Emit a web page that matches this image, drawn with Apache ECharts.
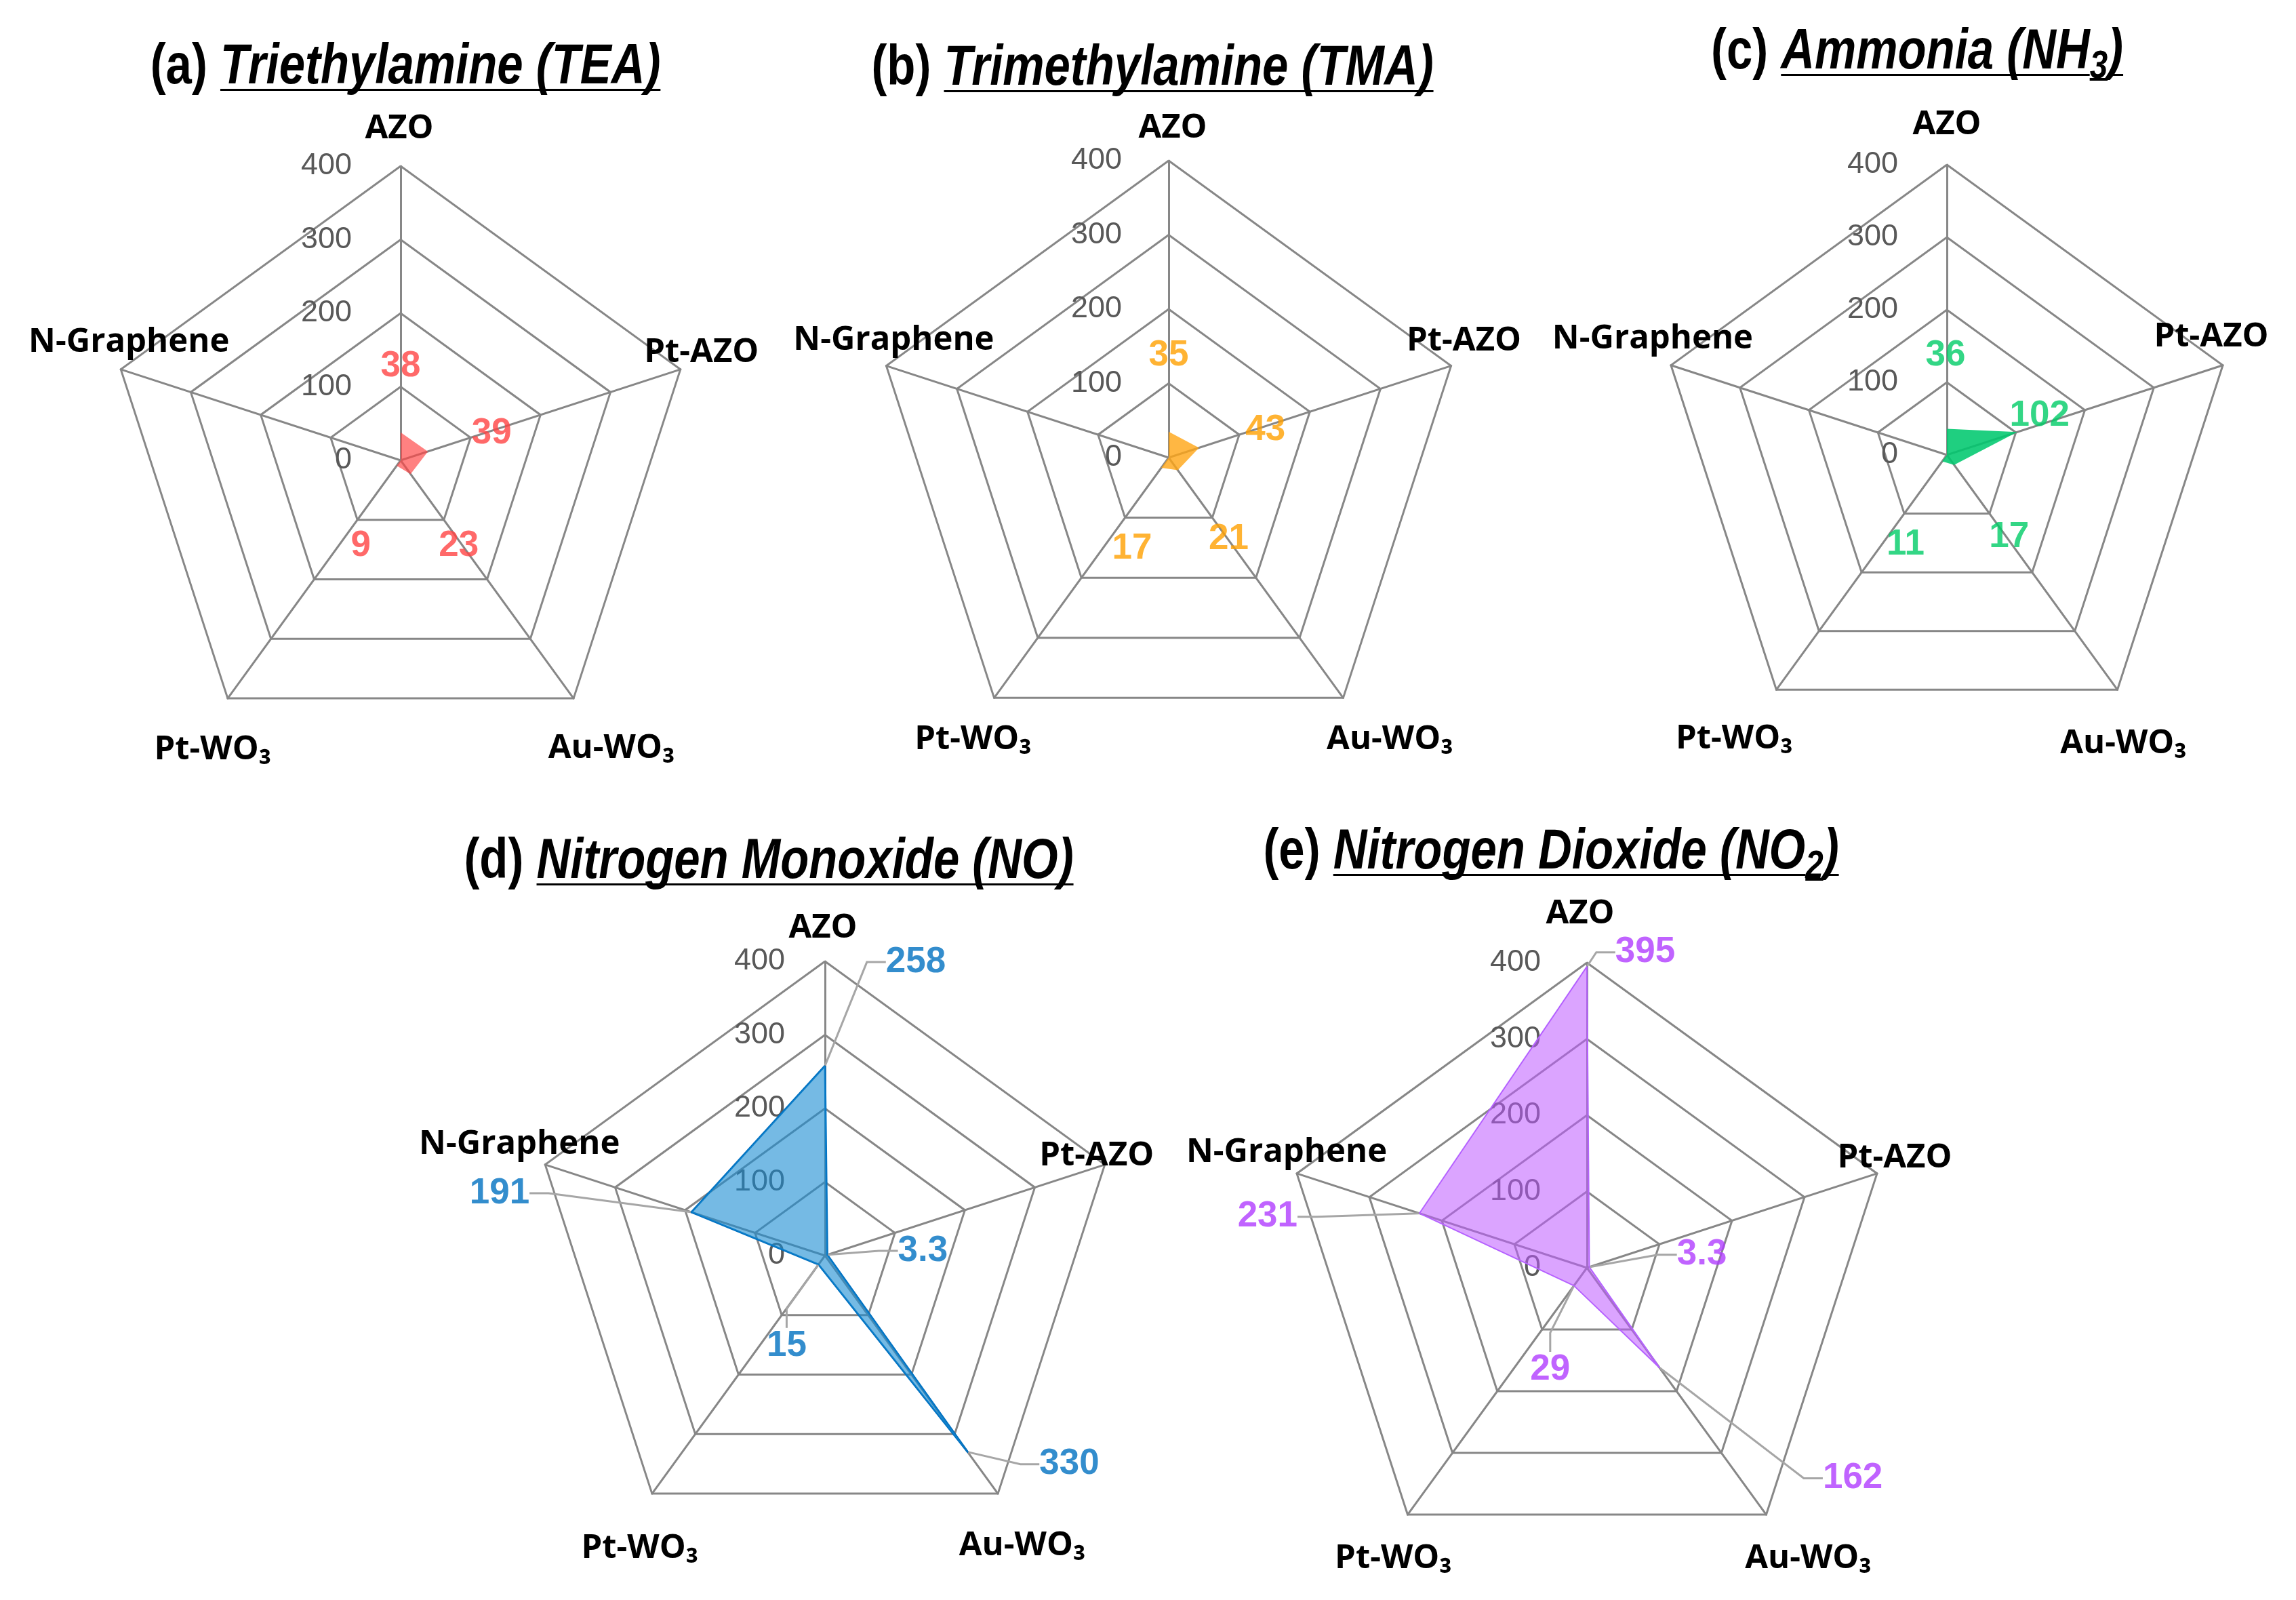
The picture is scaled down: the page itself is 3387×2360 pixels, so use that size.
<!DOCTYPE html>
<html><head><meta charset="utf-8">
<script src="https://cdn.jsdelivr.net/npm/echarts@6/dist/echarts.min.js"></script>
<style>html,body{margin:0;padding:0;background:#fff}#c{width:3387px;height:2360px}</style>
</head><body><div id="c"></div>
<script>
// Axes, listed counter-clockwise starting at the top (ECharts radar order)
const categories = ['AZO', 'N-Graphene', 'Pt-WO₃', 'Au-WO₃', 'Pt-AZO'];
const axisMin = 0, axisMax = 400, axisInterval = 100;

// Values in the same order as categories (null = no data point)
const teaValues = [38, null, 9, 23, 39];
const tmaValues = [35, null, 17, 21, 43];
const nh3Values = [36, null, 11, 17, 102];
const noValues  = [258, 191, 15, 330, 3.3];
const no2Values = [395, 231, 29, 162, 3.3];

const panelLetters = ['(a)', '(b)', '(c)', '(d)', '(e)'];
// "_n" marks a subscript digit
const panelTitles = ['Triethylamine (TEA)', 'Trimethylamine (TMA)', 'Ammonia (NH_3)', 'Nitrogen Monoxide (NO)', 'Nitrogen Dioxide (NO_2)'];
const panelValues = [teaValues, tmaValues, nh3Values, noValues, no2Values];

// ---- layout & style (not data) ----
const layouts = [
  {center: [591, 679], radius: 434, title: [598, 100], tickGap: 70, color: '#FF4343', fill: 'rgba(255,70,70,0.68)', line: 'rgba(0,0,0,0)', lw: 0, leader: false,
   off: [[0,-97], null, [-53,118], [71,106], [94,-27]],
   nameShift: [[-2,-55], [12,-40], [-22,76], [56,74], [31,-25]]},
  {center: [1724, 675], radius: 438, title: [1700, 102], tickGap: 67, color: '#FFA000', fill: 'rgba(255,165,20,0.8)', line: 'rgba(0,0,0,0)', lw: 0, leader: false,
   off: [[0,-112], null, [-43,119], [75,102], [98,-26]],
   nameShift: [[6,-48], [11,-38], [-31,62], [69,62], [19,-37]]},
  {center: [2872, 671], radius: 428, title: [2828, 78], tickGap: 70, color: '#00CC66', fill: 'rgba(0,200,110,0.88)', line: 'rgba(0,0,0,0)', lw: 0, leader: false,
   off: [[-2,-108], null, [-54,123], [81,107], [33,-24]],
   nameShift: [[0,-59], [-27,-39], [-62,73], [9,80], [-17,-42]]},
  {center: [1217, 1852], radius: 434, title: [1134, 1272], tickGap: 57, color: '#0070C0', fill: 'rgba(25,140,210,0.6)', line: '#0070C0', lw: 3, leader: true,
   off: [[134,-153], [-283,-28], [-47,120], [150,18], [141,-6]],
   nameShift: [[-3,-49], [-38,-30], [-18,81], [36,77], [-12,-13]]},
  {center: [2341, 1870], radius: 450, title: [2288, 1258], tickGap: 66, color: '#B03CFF', fill: 'rgba(190,90,255,0.55)', line: '#B266FF', lw: 2, leader: true,
   off: [[86,-21], [-224,5], [-35,124], [285,163], [166,-18]],
   nameShift: [[-10,-72], [-15,-31], [-21,65], [62,65], [26,-23]]}
];

const GRID = '#878787';
const TITLE_FONT = "'Liberation Sans Narrow', 'Arial Narrow', 'Liberation Sans', Arial, sans-serif";
const NAME_FONT = "'Open Sans', 'Noto Sans', sans-serif";
const NUM_FONT = "'Liberation Sans', Arial, sans-serif";

function underlineAt(a, b) {
  return {
    type: 'linear', x: 0, y: 0, x2: 0, y2: 1,
    colorStops: [
      {offset: 0, color: 'rgba(0,0,0,0)'}, {offset: a, color: 'rgba(0,0,0,0)'},
      {offset: a, color: '#000'}, {offset: b, color: '#000'},
      {offset: b, color: 'rgba(0,0,0,0)'}, {offset: 1, color: 'rgba(0,0,0,0)'}
    ]
  };
}
// main line box 100px: underline at 86.5..90.5 ; subscript box 60px sits at the bottom (40..100)
const ulMain = underlineAt(0.865, 0.905);
const ulSub = underlineAt((86.5 - 40) / 60, (90.5 - 40) / 60);

const radar = [], polar = [], angleAxis = [], radiusAxis = [], series = [], graphic = [];

layouts.forEach((L, i) => {
  const vals = panelValues[i];
  const rich = {};
  L.nameShift.forEach((s, j) => {
    const [dx, dy] = s;
    rich['n' + j] = {
      fontFamily: NAME_FONT, fontWeight: 'bold', fontSize: 49, color: '#000',
      padding: [dy > 0 ? 2 * dy : 0, dx < 0 ? -2 * dx : 0, dy < 0 ? -2 * dy : 0, dx > 0 ? 2 * dx : 0]
    };
  });
  radar.push({
    center: L.center, radius: L.radius, shape: 'polygon', splitNumber: 4,
    startAngle: 90, axisNameGap: 0,
    indicator: categories.map(c => ({name: c, min: axisMin, max: axisMax})),
    axisName: {
      formatter: (name) => '{n' + categories.indexOf(name) + '|' + name + '}',
      rich: rich, align: 'center', verticalAlign: 'middle'
    },
    axisLine: {lineStyle: {color: GRID, width: 3}},
    splitLine: {lineStyle: {color: GRID, width: 3}},
    splitArea: {show: false},
    axisTick: {show: false},
    axisLabel: {show: false}
  });
  polar.push({center: L.center, radius: L.radius});
  angleAxis.push({
    polarIndex: i, type: 'category', data: categories, boundaryGap: false,
    startAngle: 90, clockwise: false,
    axisLine: {show: false}, axisTick: {show: false}, axisLabel: {show: false}, splitLine: {show: false}
  });
  radiusAxis.push({
    polarIndex: i, type: 'value', min: axisMin, max: axisMax, interval: axisInterval,
    axisLine: {show: false}, axisTick: {show: false}, splitLine: {show: false},
    axisLabel: {show: true, color: '#595959', fontSize: 45, fontFamily: NUM_FONT, margin: L.tickGap + 2}
  });
  series.push({
    type: 'radar', radarIndex: i, symbol: 'none', z: 2,
    lineStyle: {color: L.line, width: L.lw},
    areaStyle: {color: L.fill, opacity: 1},
    data: [{value: vals.map(v => v == null ? 0 : v)}]
  });
  const pts = [], offs = [];
  vals.forEach((v, j) => { if (v != null) { pts.push([v, j]); offs.push(L.off[j]); } });
  series.push({
    type: 'scatter', coordinateSystem: 'polar', polarIndex: i, z: 5,
    symbol: 'circle', symbolSize: 2, itemStyle: {color: 'rgba(0,0,0,0)'},
    data: pts,
    label: {
      show: true, position: 'inside', color: L.color, fontFamily: NUM_FONT, fontWeight: 'bold', fontSize: 53,
      formatter: p => String(p.value[0])
    },
    labelLine: {show: L.leader, length2: 28, smooth: false, lineStyle: {color: '#A6A6A6', width: 3}},
    labelLayout: p => ({dx: offs[p.dataIndex][0], dy: offs[p.dataIndex][1]})
  });
  const titleRich = '{p|' + panelLetters[i] + ' }{t|' + panelTitles[i].replace(/_(\d)/g, '}{s|$1}{t|') + '}';
  graphic.push({
    type: 'text', x: L.title[0], y: L.title[1], z: 10, scaleX: 0.82,
    style: {
      text: titleRich,
      align: 'center', verticalAlign: 'middle',
      rich: {
        p: {fontFamily: TITLE_FONT, fontWeight: 'bold', fontSize: 84, color: '#000', lineHeight: 100},
        t: {fontFamily: TITLE_FONT, fontWeight: 'bold', fontStyle: 'italic', fontSize: 84, color: '#000', lineHeight: 100, backgroundColor: ulMain},
        s: {fontFamily: TITLE_FONT, fontWeight: 'bold', fontStyle: 'italic', fontSize: 58, color: '#000', lineHeight: 60, verticalAlign: 'bottom', backgroundColor: ulSub}
      }
    }
  });
});

const chart = echarts.init(document.getElementById('c'), null, {renderer: 'canvas'});
chart.setOption({
  backgroundColor: '#fff',
  animation: false,
  radar, polar, angleAxis, radiusAxis, series, graphic
});
</script></body></html>
